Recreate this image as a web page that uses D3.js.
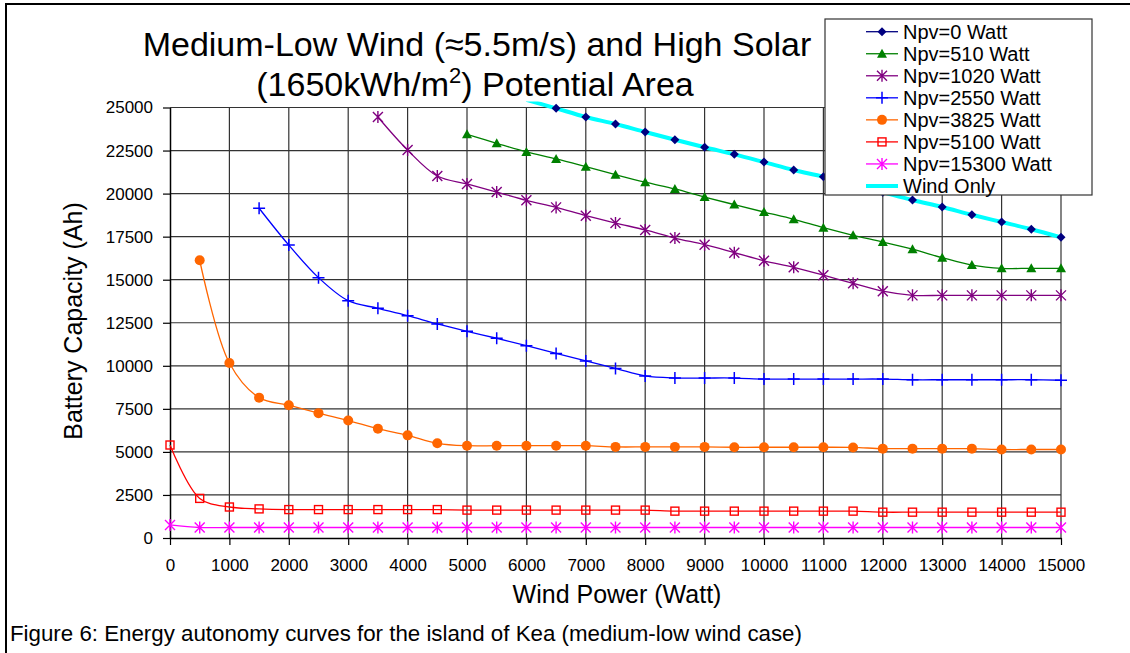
<!DOCTYPE html>
<html>
<head>
<meta charset="utf-8">
<script src="https://cdn.jsdelivr.net/npm/d3@7"></script>
<style>
  body { margin: 0; background: #fff; }
  text { font-family: "Liberation Sans", Arial, sans-serif; fill: #000; }
</style>
</head>
<body>
<script>
// ---------- data ----------
const windPower = [0,500,1000,1500,2000,2500,3000,3500,4000,4500,5000,5500,6000,6500,7000,7500,8000,8500,9000,9500,10000,10500,11000,11500,12000,12500,13000,13500,14000,14500,15000];
const xTickValues = [0,1000,2000,3000,4000,5000,6000,7000,8000,9000,10000,11000,12000,13000,14000,15000];
const yTickValues = [0,2500,5000,7500,10000,12500,15000,17500,20000,22500,25000];
const seriesNames = ["Npv=0 Watt","Npv=510 Watt","Npv=1020 Watt","Npv=2550 Watt","Npv=3825 Watt","Npv=5100 Watt","Npv=15300 Watt","Wind Only"];

const npv0 = [null,null,null,null,null,null,null,null,null,null,null,null,null,
  24950,24450,24040,23580,23130,22690,22280,21830,21370,20980,20530,20080,19630,19220,18770,18350,17930,17460];
const npv510 = [null,null,null,null,null,null,null,null,null,null,
  23440,22920,22420,22010,21560,21100,20660,20270,19800,19360,18930,18510,18020,17580,17190,16770,16280,15850,15660,15660,15660];
const npv1020 = [null,null,null,null,null,null,null,
  24450,22530,21020,20560,20090,19610,19200,18720,18290,17890,17420,17030,16570,16100,15720,15260,14790,14330,14090,14090,14090,14090,14090,14090];
const npv2550 = [null,null,null,
  19150,17010,15120,13780,13340,12910,12430,12000,11600,11170,10720,10280,9850,9410,9290,9290,9290,9230,9230,9230,9230,9230,9190,9190,9190,9190,9190,9160];
const npv3825 = [null,
  16130,10160,8150,7710,7250,6820,6350,5960,5500,5360,5360,5360,5360,5360,5290,5290,5290,5290,5270,5270,5270,5270,5260,5190,5190,5190,5190,5140,5140,5140];
const npv5100 = [5400,2300,1800,1690,1650,1650,1650,1650,1650,1650,1620,1620,1620,1620,1620,1620,1620,1560,1560,1560,1560,1560,1560,1560,1500,1500,1500,1500,1500,1500,1500];
const npv15300 = [760,610,610,610,610,610,610,610,610,610,610,610,610,610,610,610,610,610,610,610,610,610,610,610,610,610,610,610,610,610,610];
const windOnly = [null,null,null,null,null,null,null,null,null,null,null,null,
  25450,24950,24450,24040,23580,23130,22690,22280,21830,21370,20980,20530,20080,19630,19220,18770,18350,17930,17460];

// ---------- styles ----------
const styles = [
  {data: npv0,     color: "#000080", marker: "diamond",  lw: 1.3},
  {data: npv510,   color: "#008000", marker: "triangle", lw: 1.3},
  {data: npv1020,  color: "#800080", marker: "star",     lw: 1.3},
  {data: npv2550,  color: "#0000FF", marker: "plus",     lw: 1.3},
  {data: npv3825,  color: "#FF6600", marker: "circle",   lw: 1.3},
  {data: npv5100,  color: "#FF0000", marker: "square",   lw: 1.3},
  {data: npv15300, color: "#FF00FF", marker: "star",     lw: 1.3},
  {data: windOnly, color: "#00FFFF", marker: null,       lw: 4}
];

const W = 1130, H = 653;
const svg = d3.select("body").append("svg").attr("width", W).attr("height", H);
svg.append("rect").attr("width", W).attr("height", H).attr("fill", "#fff");

// outer frame (top and left edges)
svg.append("line").attr("x1", 5).attr("x2", W).attr("y1", 4).attr("y2", 4).attr("stroke", "#000").attr("stroke-width", 2);
svg.append("line").attr("x1", 6).attr("x2", 6).attr("y1", 3).attr("y2", H).attr("stroke", "#000").attr("stroke-width", 2);

const x = d3.scaleLinear().domain([0, 15000]).range([170, 1061]);
const y = d3.scaleLinear().domain([0, 25000]).range([538, 107.5]);

// grid
const grid = svg.append("g");
grid.selectAll(".vg").data(xTickValues.filter(d => d > 0)).enter().append("line")
  .attr("x1", d => x(d)).attr("x2", d => x(d)).attr("y1", y(25000)).attr("y2", y(0))
  .attr("stroke", "#333").attr("stroke-width", 1.2);
grid.selectAll(".hg").data(yTickValues.filter(d => d > 0)).enter().append("line")
  .attr("x1", x(0)).attr("x2", x(15000)).attr("y1", d => y(d)).attr("y2", d => y(d))
  .attr("stroke", "#333").attr("stroke-width", 1.2);

// axes
const xAxis = svg.append("g").attr("transform", `translate(0,${y(0)})`)
  .call(d3.axisBottom(x).tickValues(xTickValues).tickSize(7).tickPadding(14).tickFormat(d => String(d)).tickSizeOuter(0));
const yAxis = svg.append("g").attr("transform", `translate(${x(0)},0)`)
  .call(d3.axisLeft(y).tickValues(yTickValues).tickSize(7).tickPadding(10).tickFormat(d => String(d)).tickSizeOuter(0));
[xAxis, yAxis].forEach(a => {
  a.select(".domain").attr("stroke", "#000").attr("stroke-width", 1.5);
  a.selectAll(".tick line").attr("stroke", "#000").attr("stroke-width", 1.2);
  a.selectAll(".tick text").attr("font-size", 17).attr("font-family", "Liberation Sans, Arial, sans-serif").attr("fill", "#000");
});

// clip
svg.append("clipPath").attr("id", "clip").append("rect")
  .attr("x", x(0) - 10).attr("y", y(25000) - 6).attr("width", x(15000) - x(0) + 20).attr("height", y(0) - y(25000) + 16);

const plot = svg.append("g").attr("clip-path", "url(#clip)");

const lineGen = d3.line()
  .defined(d => d[1] != null)
  .x(d => x(d[0])).y(d => y(d[1]))
  .curve(d3.curveCatmullRom.alpha(0.5));

// lines: Npv series first, wind only on top
styles.forEach(s => {
  const pts = windPower.map((w, i) => [w, s.data[i]]);
  plot.append("path").attr("d", lineGen(pts)).attr("fill", "none")
    .attr("stroke", s.color).attr("stroke-width", s.lw);
});

function drawMarker(g, type, color, cx, cy) {
  if (type === "diamond") {
    g.append("path").attr("d", `M${cx},${cy-4.5}L${cx+4.5},${cy}L${cx},${cy+4.5}L${cx-4.5},${cy}Z`).attr("fill", color);
  } else if (type === "triangle") {
    g.append("path").attr("d", `M${cx},${cy-5}L${cx+5},${cy+4}L${cx-5},${cy+4}Z`).attr("fill", color);
  } else if (type === "circle") {
    g.append("circle").attr("cx", cx).attr("cy", cy).attr("r", 5).attr("fill", color);
  } else if (type === "square") {
    g.append("rect").attr("x", cx - 4).attr("y", cy - 4).attr("width", 8).attr("height", 8)
      .attr("fill", "none").attr("stroke", color).attr("stroke-width", 1.4);
  } else if (type === "plus") {
    g.append("path").attr("d", `M${cx-6},${cy}L${cx+6},${cy}M${cx},${cy-6}L${cx},${cy+6}`)
      .attr("stroke", color).attr("stroke-width", 1.5);
  } else if (type === "star") {
    g.append("path").attr("d", `M${cx-5},${cy-5}L${cx+5},${cy+5}M${cx-5},${cy+5}L${cx+5},${cy-5}M${cx},${cy-6}L${cx},${cy+6}`)
      .attr("stroke", color).attr("stroke-width", 1.4);
  }
}

const markers = svg.append("g");
styles.forEach(s => {
  if (!s.marker) return;
  windPower.forEach((w, i) => {
    const v = s.data[i];
    if (v == null) return;
    drawMarker(markers, s.marker, s.color, x(w), y(v));
  });
});

// legend
const lg = svg.append("g");
lg.append("rect").attr("x", 825).attr("y", 19).attr("width", 267).attr("height", 176)
  .attr("fill", "#fff").attr("stroke", "#333").attr("stroke-width", 1.2);
seriesNames.forEach((name, i) => {
  const s = styles[i];
  const cy = 31.7 + i * 22.04;
  lg.append("line").attr("x1", 866).attr("x2", 898).attr("y1", cy).attr("y2", cy)
    .attr("stroke", s.color).attr("stroke-width", s.lw);
  if (s.marker) drawMarker(lg, s.marker, s.color, 882, cy);
  lg.append("text").attr("x", 903).attr("y", cy + 7).attr("font-size", 20).text(name);
});

// titles
const t1 = svg.append("text").attr("x", 477).attr("y", 56).attr("text-anchor", "middle").attr("font-size", 34)
  .text("Medium-Low Wind (≈5.5m/s) and High Solar");
const t2 = svg.append("text").attr("x", 475).attr("y", 96).attr("text-anchor", "middle").attr("font-size", 34);
t2.append("tspan").text("(1650kWh/m");
t2.append("tspan").attr("font-size", 22).attr("dy", -13).text("2");
t2.append("tspan").attr("dy", 13).text(") Potential Area");

svg.append("text").attr("x", 617).attr("y", 603).attr("text-anchor", "middle").attr("font-size", 25)
  .text("Wind Power (Watt)");
svg.append("text").attr("transform", "translate(82,321) rotate(-90)").attr("text-anchor", "middle").attr("font-size", 25)
  .text("Battery Capacity (Ah)");
svg.append("text").attr("x", 10).attr("y", 641).attr("font-size", 22.3)
  .text("Figure 6: Energy autonomy curves for the island of Kea (medium-low wind case)");
</script>
</body>
</html>
